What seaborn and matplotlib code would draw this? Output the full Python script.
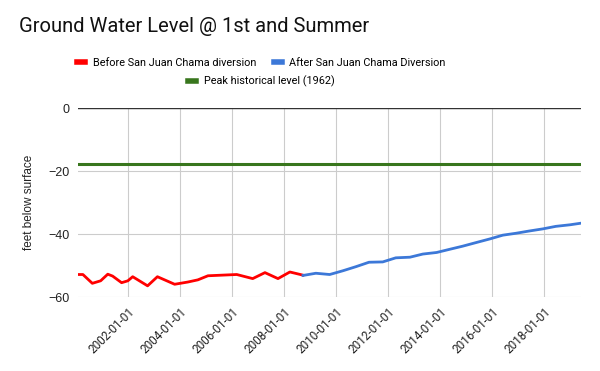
import matplotlib
matplotlib.use("Agg")
import matplotlib.pyplot as plt
import matplotlib.dates as mdates
import seaborn as sns
import pandas as pd

before_dates = ["2000-02-01", "2000-04-10", "2000-08-20", "2000-12-15", "2001-03-25",
                "2001-06-01", "2001-10-05", "2002-01-01", "2002-03-10", "2002-10-05",
                "2003-02-20", "2003-10-20", "2004-04-20", "2004-09-10", "2005-01-30",
                "2006-03-10", "2006-10-20", "2007-04-10", "2007-10-10", "2008-03-25",
                "2008-09-25"]
before_level = [-52.8, -52.8, -55.6, -54.8, -52.7, -53.3, -55.4, -54.8, -53.5, -56.4,
                -53.5, -55.9, -55.2, -54.5, -53.2, -52.8, -54.1, -52.2, -54.1, -52.0,
                -53.0]

after_dates = ["2008-09-25", "2009-03-25", "2009-10-05", "2010-04-10", "2010-10-10",
               "2011-04-10", "2011-10-20", "2012-04-20", "2012-11-05", "2013-05-05",
               "2013-11-15", "2014-05-15", "2014-11-15", "2015-05-15", "2015-12-01",
               "2016-06-01", "2016-12-01", "2017-06-01", "2017-12-15", "2018-06-15",
               "2019-01-01", "2019-06-01"]
after_level = [-53.1, -52.4, -52.8, -51.6, -50.3, -48.9, -48.8, -47.5, -47.3, -46.3,
               -45.8, -44.8, -43.8, -42.7, -41.5, -40.3, -39.7, -39.0, -38.3, -37.5,
               -37.0, -36.5]

peak_level = -17.7

before = pd.DataFrame({"date": pd.to_datetime(before_dates), "level": before_level})
after = pd.DataFrame({"date": pd.to_datetime(after_dates), "level": after_level})

fig = plt.figure(figsize=(6, 3.71), dpi=100)
ax = fig.add_axes([0.13, 0.199, 0.838, 0.509])

sns.lineplot(data=before, x="date", y="level", ax=ax, color="#ff0000", lw=2,
             label="Before San Juan Chama diversion")
sns.lineplot(data=after, x="date", y="level", ax=ax, color="#3c78d8", lw=2,
             label="After San Juan Chama Diversion")
ax.axhline(peak_level, color="#38761d", lw=2.2, label="Peak historical level (1962)")

ax.set_xlim(before["date"].min(), after["date"].max())
ax.set_ylim(-60, 0)
ax.set_yticks([0, -20, -40, -60])
ax.xaxis.set_major_locator(mdates.YearLocator(2))
ax.xaxis.set_major_formatter(mdates.DateFormatter("%Y-%m-%d"))

ax.grid(True, color="#cccccc", lw=0.8)
ax.set_axisbelow(True)
ax.axhline(0, color="#333333", lw=1.0, zorder=1)
for s in ax.spines.values():
    s.set_visible(False)
ax.tick_params(length=0, pad=6)

for lab in ax.get_xticklabels():
    lab.set_rotation(45)
    lab.set_ha("right")
    lab.set_rotation_mode("anchor")
    lab.set_fontfamily("Roboto")
    lab.set_fontsize(8.5)
    lab.set_color("#222222")
for lab in ax.get_yticklabels():
    lab.set_fontfamily("Liberation Sans")
    lab.set_fontsize(9)
    lab.set_color("#222222")

ax.set_xlabel("")
ax.set_ylabel("feet below surface", fontfamily="Liberation Sans", fontsize=8.5,
              color="#222222", labelpad=10)

fig.text(0.032, 0.915, "Ground Water Level @ 1st and Summer", fontfamily="Roboto",
         fontsize=14.5, color="#111111")

handles, labels = ax.get_legend_handles_labels()
ax.get_legend().remove()
fig.legend(handles[:2], labels[:2], loc="center", bbox_to_anchor=(0.436, 0.831),
           ncol=2, frameon=False, prop={"family": "Roboto", "size": 7.8},
           handlelength=0.75, columnspacing=1.6, handletextpad=0.7)
fig.legend(handles[2:], labels[2:], loc="center", bbox_to_anchor=(0.436, 0.780),
           frameon=False, prop={"family": "Roboto", "size": 7.8},
           handlelength=0.75, handletextpad=0.7)
for leg in fig.legends:
    for h in leg.legend_handles:
        h.set_linewidth(4)

fig.savefig("out.png", dpi=100)
